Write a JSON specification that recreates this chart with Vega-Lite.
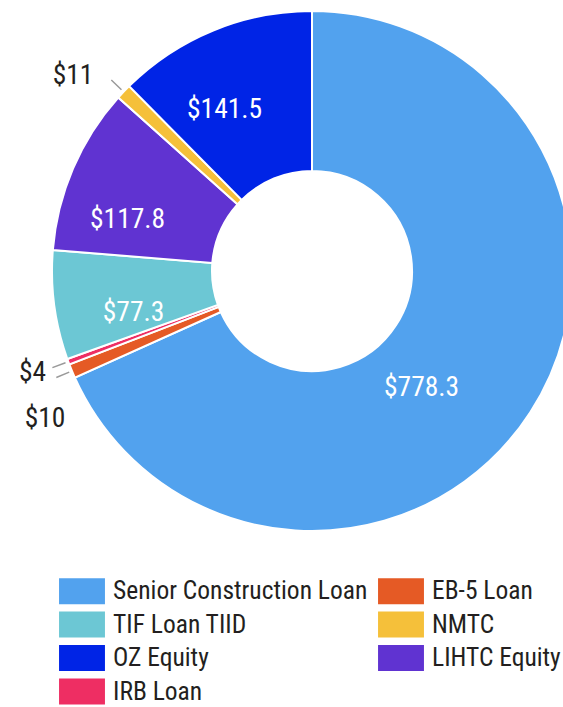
{
  "$schema": "https://vega.github.io/schema/vega-lite/v6.json",
  "width": 624,
  "height": 542,
  "autosize": {"type": "none"},
  "padding": {"left": 0, "top": 0, "right": 0, "bottom": 165},
  "background": "white",
  "view": {"stroke": null},
  "config": {
    "font": "Liberation Sans Narrow, Roboto Condensed, DejaVu Sans Condensed, sans-serif",
    "legend": {
      "orient": "none",
      "legendX": 68,
      "legendY": 577,
      "columns": 2,
      "padding": 0,
      "symbolType": "M-1.64,-0.93H1.64V0.93H-1.64Z",
      "symbolSize": 784,
      "symbolStrokeWidth": 0,
      "symbolOpacity": 1,
      "labelFont": "Liberation Sans Narrow, Roboto Condensed, DejaVu Sans Condensed, sans-serif",
      "labelFontSize": 25.5,
      "labelColor": "#231f20",
      "labelOffset": 17,
      "labelLimit": 400,
      "rowPadding": 5.5,
      "columnPadding": 10
    }
  },
  "data": {
    "values": [
      {"category": "Senior Construction Loan", "value": 778.3, "order": 1},
      {"category": "EB-5 Loan", "value": 10, "order": 2},
      {"category": "IRB Loan", "value": 4, "order": 3},
      {"category": "TIF Loan TIID", "value": 77.3, "order": 4},
      {"category": "LIHTC Equity", "value": 117.8, "order": 5},
      {"category": "NMTC", "value": 11, "order": 6},
      {"category": "OZ Equity", "value": 141.5, "order": 7}
    ]
  },
  "encoding": {
    "theta": {"field": "value", "type": "quantitative", "stack": true},
    "order": {"field": "order", "type": "quantitative"}
  },
  "layer": [
    {
      "mark": {"type": "arc", "outerRadius": 260, "innerRadius": 100, "stroke": "white", "strokeWidth": 2},
      "encoding": {
        "color": {
          "field": "category",
          "type": "nominal",
          "title": null,
          "scale": {
            "domain": ["Senior Construction Loan", "TIF Loan TIID", "OZ Equity", "IRB Loan", "EB-5 Loan", "NMTC", "LIHTC Equity"],
            "range": ["#52a2ee", "#6cc7d4", "#0024e6", "#ee2e63", "#e55a25", "#f5c03a", "#6033d1"]
          }
        }
      }
    },
    {
      "mark": {"type": "arc", "innerRadius": 263, "padAngle": 0.3, "fillOpacity": 0, "strokeWidth": 1.5},
      "encoding": {
        "radius": {"condition": {"test": "datum.category == 'NMTC'", "value": 295}, "value": 277},
        "stroke": {"condition": {"test": "datum.value < 20", "value": "#9a9a9a"}, "value": "transparent"}
      }
    },
    {
      "mark": {"type": "text", "radius": 180, "dx": -19, "dy": 5, "color": "white", "fontSize": 27.5, "align": "center", "baseline": "middle"},
      "encoding": {
        "text": {"condition": {"test": "datum.category == 'OZ Equity'", "field": "value", "type": "quantitative", "format": "$"}, "value": ""}
      }
    },
    {
      "mark": {"type": "text", "radius": 180, "dx": -19, "dy": 20, "color": "white", "fontSize": 27.5, "align": "center", "baseline": "middle"},
      "encoding": {
        "text": {"condition": {"test": "datum.category == 'LIHTC Equity'", "field": "value", "type": "quantitative", "format": "$"}, "value": ""}
      }
    },
    {
      "mark": {"type": "text", "radius": 180, "dx": 0, "dy": 18, "color": "white", "fontSize": 27.5, "align": "center", "baseline": "middle"},
      "encoding": {
        "text": {"condition": {"test": "datum.category == 'TIF Loan TIID'", "field": "value", "type": "quantitative", "format": "$"}, "value": ""}
      }
    },
    {
      "mark": {"type": "text", "radius": 165, "dx": -29, "dy": 27, "color": "white", "fontSize": 27.5, "align": "center", "baseline": "middle"},
      "encoding": {
        "text": {"condition": {"test": "datum.order == 1", "field": "value", "type": "quantitative", "format": "$"}, "value": ""}
      }
    },
    {
      "mark": {"type": "text", "radius": 305, "dx": -18, "dy": 15, "color": "#231f20", "fontSize": 27.5, "align": "center", "baseline": "middle"},
      "encoding": {
        "text": {"condition": {"test": "datum.category == 'NMTC'", "field": "value", "type": "quantitative", "format": "$"}, "value": ""}
      }
    },
    {
      "mark": {"type": "text", "radius": 296, "dx": -2, "dy": -1, "color": "#231f20", "fontSize": 27.5, "align": "center", "baseline": "middle"},
      "encoding": {
        "text": {"condition": {"test": "datum.category == 'IRB Loan'", "field": "value", "type": "quantitative", "format": "$"}, "value": ""}
      }
    },
    {
      "mark": {"type": "text", "radius": 300, "dx": 10, "dy": 33, "color": "#231f20", "fontSize": 27.5, "align": "center", "baseline": "middle"},
      "encoding": {
        "text": {"condition": {"test": "datum.category == 'EB-5 Loan'", "field": "value", "type": "quantitative", "format": "$"}, "value": ""}
      }
    }
  ]
}
